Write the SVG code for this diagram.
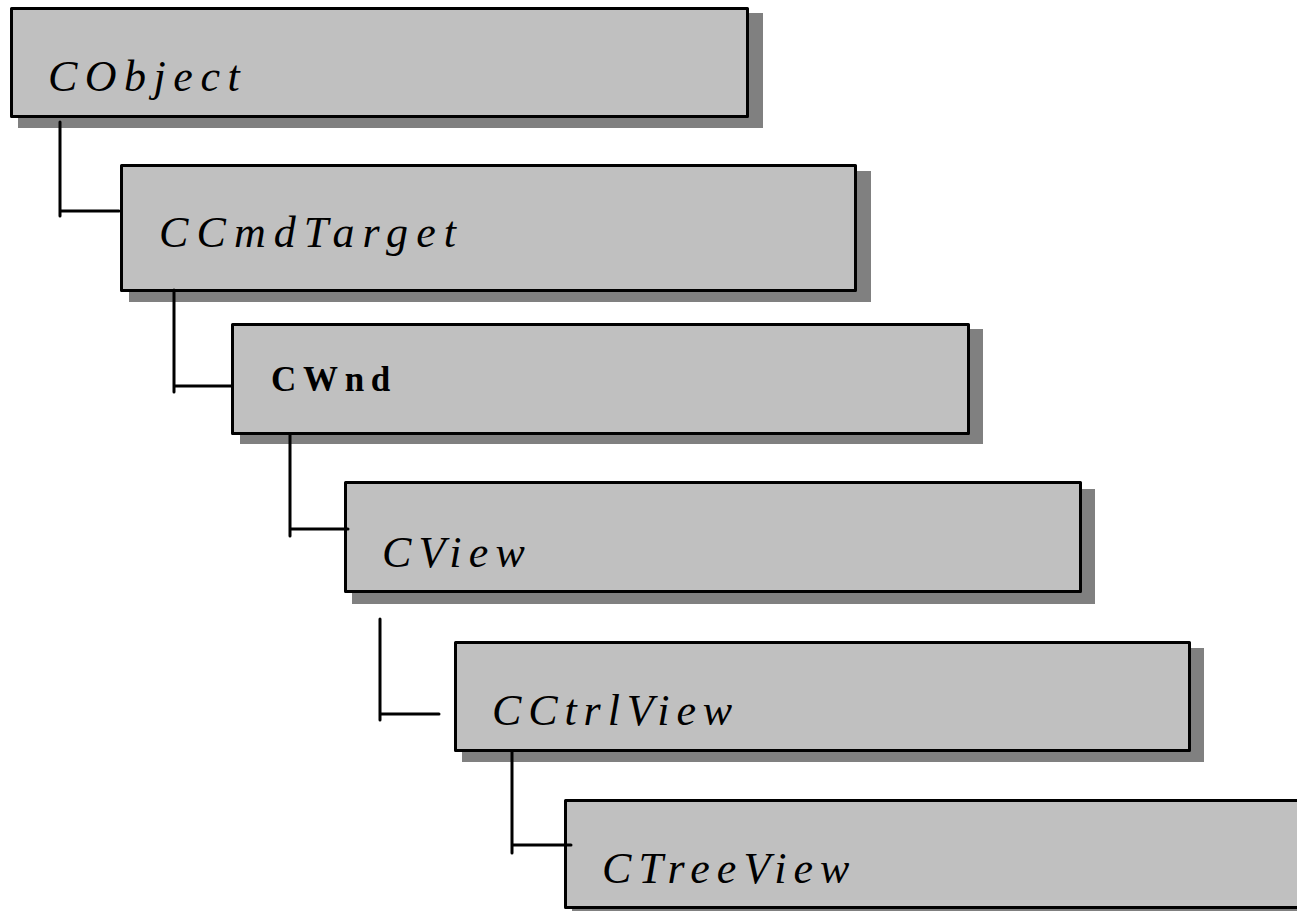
<svg xmlns="http://www.w3.org/2000/svg" width="1297" height="911" viewBox="0 0 1297 911">
<style>
.shadow{fill:#808080;}
.box{fill:#c0c0c0;stroke:#000;stroke-width:3;stroke-linejoin:round;}
.lbl{font-family:"Liberation Serif","Times New Roman",serif;font-style:italic;font-size:44px;fill:#000;letter-spacing:7.3px;}
.bold{font-family:"Liberation Serif","Times New Roman",serif;font-weight:bold;font-size:35px;fill:#000;letter-spacing:6.7px;}
.conn{fill:none;stroke:#000;stroke-width:3;stroke-linecap:round;}
</style>
<rect width="1297" height="911" fill="#fff"/>
<g id="CObject">
<rect class="shadow" x="18" y="13" width="745" height="115"/>
<rect class="box" x="11.5" y="8.5" width="736" height="108"/>
<text class="lbl" x="48" y="91" style="letter-spacing:7.5px">CObject</text>
</g>
<g id="CCmdTarget">
<rect class="shadow" x="129" y="171" width="742" height="131"/>
<rect class="box" x="121.5" y="165.5" width="734" height="125"/>
<text class="lbl" x="159" y="247" style="letter-spacing:8.1px">CCmdTarget</text>
</g>
<g id="CWnd">
<rect class="shadow" x="240" y="329" width="743" height="115"/>
<rect class="box" x="232.5" y="324.5" width="736" height="109"/>
<text class="bold" x="271" y="391">CWnd</text>
</g>
<g id="CView">
<rect class="shadow" x="352" y="489" width="743" height="115"/>
<rect class="box" x="345.5" y="482.5" width="735" height="109"/>
<text class="lbl" x="382" y="567" style="letter-spacing:7.2px">CView</text>
</g>
<g id="CCtrlView">
<rect class="shadow" x="462" y="648" width="742" height="114"/>
<rect class="box" x="455.5" y="642.5" width="734" height="108"/>
<text class="lbl" x="492" y="725" style="letter-spacing:6.9px">CCtrlView</text>
</g>
<g id="CTreeView">
<rect class="shadow" x="572" y="806" width="760" height="120"/>
<rect class="box" x="565.5" y="800.5" width="760" height="107"/>
<text class="lbl" x="602" y="883" style="letter-spacing:7.1px">CTreeView</text>
</g>
<g id="connectors">
<path class="conn" d="M60 122 V216 M60 211 H119"/>
<path class="conn" d="M174 290 V392 M174 386 H231"/>
<path class="conn" d="M290 435 V536 M290 529 H348"/>
<path class="conn" d="M380 619 V720 M380 714 H439"/>
<path class="conn" d="M512 752 V853 M512 845 H571"/>
</g>
</svg>
